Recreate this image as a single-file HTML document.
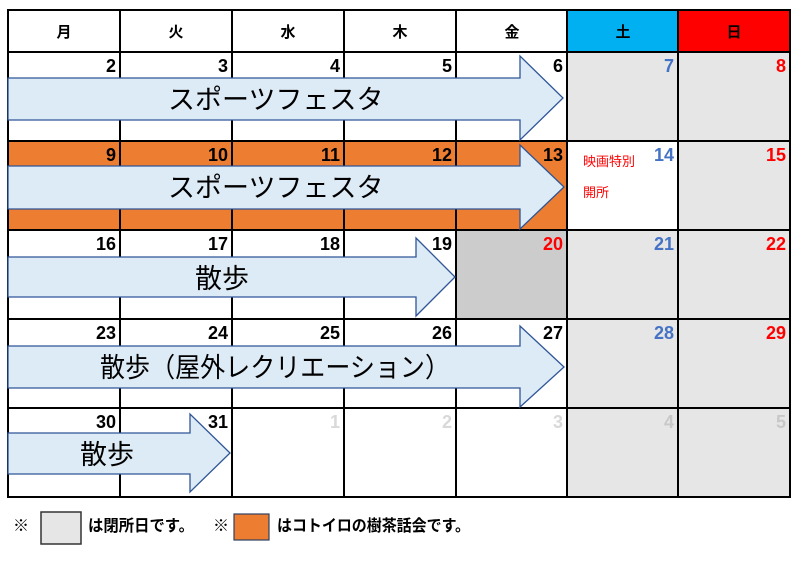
<!DOCTYPE html>
<html><head><meta charset="utf-8"><style>
body{margin:0;background:#fff;width:800px;height:565px;overflow:hidden}
svg{display:block}
text{font-family:"Liberation Sans","Noto Sans CJK JP",sans-serif}
.n{font-size:18px;font-weight:bold;text-anchor:end}
.h{font-size:15px;font-weight:bold;text-anchor:middle}
.a{font-size:27px;fill:#000}
</style></head><body>
<svg width="800" height="565" viewBox="0 0 800 565">
<rect x="567" y="10" width="111" height="42" fill="#00b0f0"/>
<rect x="678" y="10" width="112" height="42" fill="#ff0000"/>
<rect x="567" y="52" width="223" height="89" fill="#e6e6e6"/>
<rect x="678" y="141" width="112" height="89" fill="#e6e6e6"/>
<rect x="456" y="230" width="111" height="89" fill="#cdcccc"/>
<rect x="567" y="230" width="223" height="89" fill="#e6e6e6"/>
<rect x="567" y="319" width="223" height="89" fill="#e6e6e6"/>
<rect x="567" y="408" width="223" height="89" fill="#e6e6e6"/>
<rect x="8" y="141" width="559" height="89" fill="#ed7d31"/>
<g stroke="#000" stroke-width="2" fill="none">
<rect x="8" y="10" width="782" height="487"/>
<line x1="8" y1="52" x2="790" y2="52"/><line x1="8" y1="141" x2="790" y2="141"/>
<line x1="8" y1="230" x2="790" y2="230"/><line x1="8" y1="319" x2="790" y2="319"/>
<line x1="8" y1="408" x2="790" y2="408"/>
<line x1="120" y1="10" x2="120" y2="497"/><line x1="232" y1="10" x2="232" y2="497"/>
<line x1="344" y1="10" x2="344" y2="497"/><line x1="456" y1="10" x2="456" y2="497"/>
<line x1="567" y1="10" x2="567" y2="497"/><line x1="678" y1="10" x2="678" y2="497"/>
</g>
<text class="h" x="64" y="37">月</text><text class="h" x="176" y="37">火</text>
<text class="h" x="288" y="37">水</text><text class="h" x="400" y="37">木</text>
<text class="h" x="512" y="37">金</text><text class="h" x="623" y="37">土</text>
<text class="h" x="734" y="37">日</text>
<text class="n" x="116" y="72">2</text><text class="n" x="228" y="72">3</text><text class="n" x="340" y="72">4</text><text class="n" x="452" y="72">5</text><text class="n" x="563" y="72">6</text><text class="n" x="674" y="72" fill="#4472c4">7</text><text class="n" x="786" y="72" fill="#ff0000">8</text>
<text class="n" x="116" y="161">9</text><text class="n" x="228" y="161">10</text><text class="n" x="340" y="161">11</text><text class="n" x="452" y="161">12</text><text class="n" x="563" y="161">13</text><text class="n" x="674" y="161" fill="#4472c4">14</text><text class="n" x="786" y="161" fill="#ff0000">15</text>
<text class="n" x="116" y="250">16</text><text class="n" x="228" y="250">17</text><text class="n" x="340" y="250">18</text><text class="n" x="452" y="250">19</text><text class="n" x="563" y="250" fill="#ff0000">20</text><text class="n" x="674" y="250" fill="#4472c4">21</text><text class="n" x="786" y="250" fill="#ff0000">22</text>
<text class="n" x="116" y="339">23</text><text class="n" x="228" y="339">24</text><text class="n" x="340" y="339">25</text><text class="n" x="452" y="339">26</text><text class="n" x="563" y="339">27</text><text class="n" x="674" y="339" fill="#4472c4">28</text><text class="n" x="786" y="339" fill="#ff0000">29</text>
<text class="n" x="116" y="428">30</text><text class="n" x="228" y="428">31</text>
<text class="n" x="340" y="428" fill="#d9d9d9" font-weight="normal">1</text><text class="n" x="452" y="428" fill="#d9d9d9" font-weight="normal">2</text><text class="n" x="563" y="428" fill="#d9d9d9" font-weight="normal">3</text><text class="n" x="674" y="428" fill="#c8c8c8" font-weight="normal">4</text><text class="n" x="786" y="428" fill="#c8c8c8" font-weight="normal">5</text>
<text x="583" y="166" font-size="13" fill="#ff0000">映画特別</text>
<text x="583" y="197" font-size="13" fill="#ff0000">開所</text>
<g fill="#ddebf7" stroke="#2f5597" stroke-width="1.3">
<polygon points="8,78 520,78 520,56 563,98 520,140 520,120 8,120"/>
<polygon points="8,166 520,166 520,145 564,187 520,229 520,209 8,209"/>
<polygon points="8,257 416,257 416,238 455,277 416,316 416,297 8,297"/>
<polygon points="8,346 520,346 520,326 564,367 520,407 520,388 8,388"/>
<polygon points="8,433 190,433 190,414 230,453 190,492 190,474 8,474"/>
</g>
<text class="a" x="168" y="109">スポーツフェスタ</text>
<text class="a" x="168" y="197">スポーツフェスタ</text>
<text class="a" x="195" y="288">散歩</text>
<text class="a" x="100" y="377" textLength="350" lengthAdjust="spacingAndGlyphs">散歩（屋外レクリエーション）</text>
<text class="a" x="80" y="464">散歩</text>
<text x="13" y="531" font-size="16" font-weight="bold">※</text>
<rect x="41" y="512" width="40" height="32" fill="#e6e6e6" stroke="#333" stroke-width="1.5"/>
<text x="88" y="531" font-size="16" font-weight="bold" textLength="106" lengthAdjust="spacingAndGlyphs">は閉所日です。</text>
<text x="213" y="531" font-size="16" font-weight="bold">※</text>
<rect x="234" y="514" width="35" height="26" fill="#ed7d31" stroke="#2f3f5f" stroke-width="1.2"/>
<text x="277" y="531" font-size="16" font-weight="bold" textLength="193" lengthAdjust="spacingAndGlyphs">はコトイロの樹茶話会です。</text>
</svg>
</body></html>
